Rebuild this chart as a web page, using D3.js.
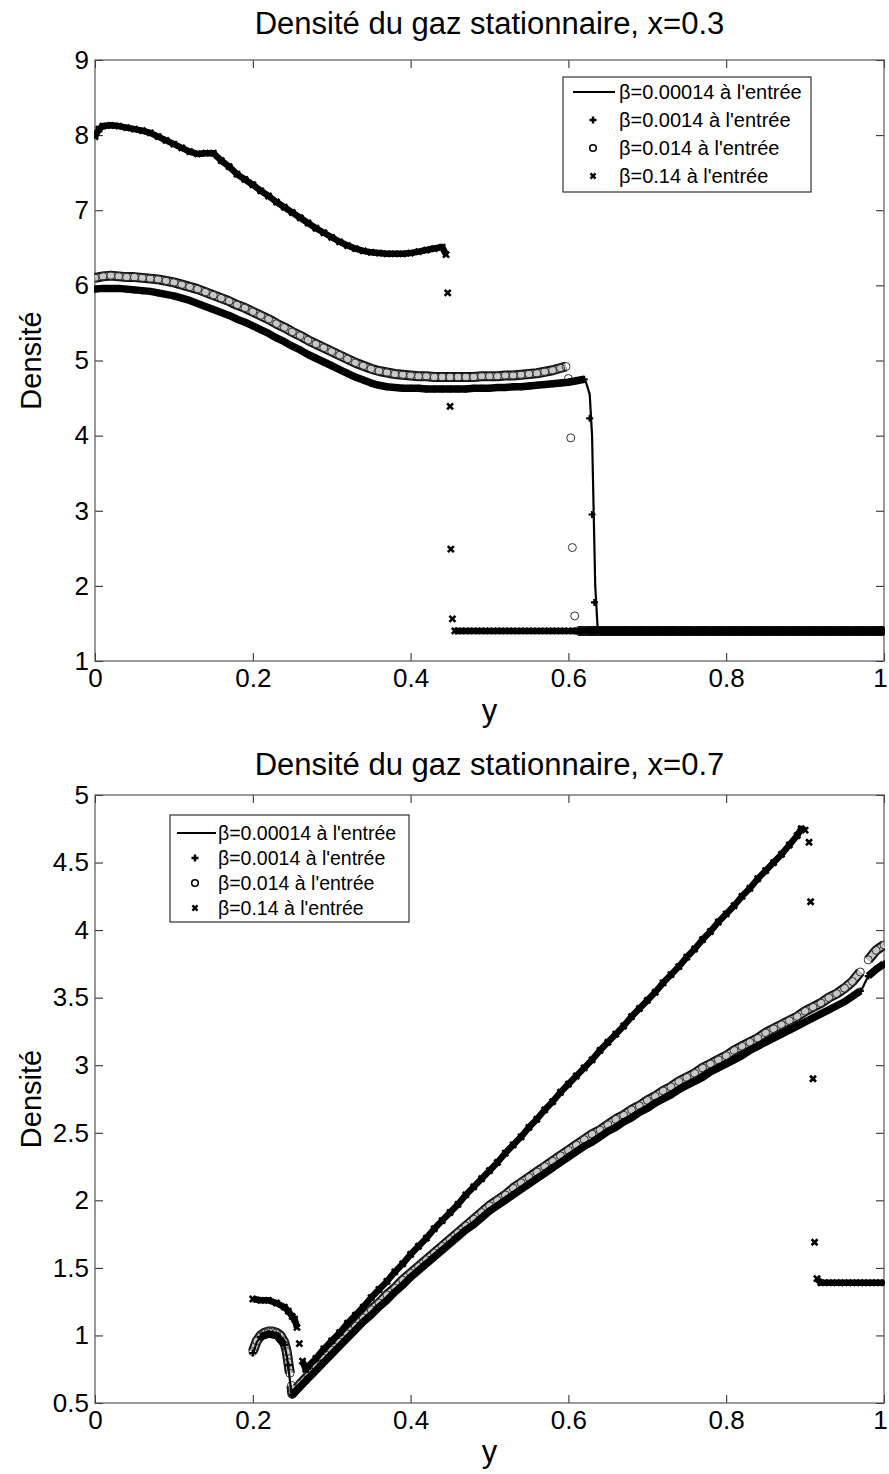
<!DOCTYPE html>
<html><head><meta charset="utf-8">
<script src="https://cdn.jsdelivr.net/npm/d3@7"></script>
<style>body{margin:0;background:#fff}</style>
</head><body><svg id="c" width="889" height="1474"></svg>
<script>
const FONT = '"Liberation Sans", Arial, Helvetica, sans-serif';
const titles = ["Densité du gaz stationnaire, x=0.3", "Densité du gaz stationnaire, x=0.7"];
const xLabel = "y";
const yLabel = "Densité";
const legendLabels = ["β=0.00014 à l'entrée", "β=0.0014 à l'entrée", "β=0.014 à l'entrée", "β=0.14 à l'entrée"];
const xTicks = [0, 0.2, 0.4, 0.6, 0.8, 1];
const xTickLabels = ["0", "0.2", "0.4", "0.6", "0.8", "1"];
const yTicksTop = [1, 2, 3, 4, 5, 6, 7, 8, 9];
const yTickLabelsTop = ["1", "2", "3", "4", "5", "6", "7", "8", "9"];
const yTicksBot = [0.5, 1, 1.5, 2, 2.5, 3, 3.5, 4, 4.5, 5];
const yTickLabelsBot = ["0.5", "1", "1.5", "2", "2.5", "3", "3.5", "4", "4.5", "5"];

// ---- x = 0.3 : [y, densité]
const top_beta00014 = [[0,5.93],[0.02,5.94],[0.04,5.93],[0.06,5.91],[0.08,5.88],[0.10,5.84],[0.12,5.78],[0.14,5.71],[0.16,5.63],[0.18,5.54],[0.20,5.44],[0.22,5.34],[0.24,5.23],[0.26,5.12],[0.28,5.01],[0.30,4.91],[0.32,4.81],[0.34,4.73],[0.36,4.66],[0.38,4.62],[0.40,4.61],[0.44,4.60],[0.48,4.61],[0.52,4.63],[0.56,4.66],[0.60,4.69],[0.615,4.72],[0.622,4.72],[0.627,4.55],[0.630,4.0],[0.632,3.0],[0.634,2.0],[0.637,1.45],[0.64,1.39],[0.7,1.39],[0.8,1.39],[0.9,1.39],[1.0,1.39]];
const top_beta0014 = [[0,5.95],[0.01,5.96],[0.02,5.96],[0.03,5.96],[0.04,5.95],[0.05,5.94],[0.06,5.93],[0.07,5.92],[0.08,5.90],[0.09,5.88],[0.10,5.86],[0.11,5.83],[0.12,5.80],[0.13,5.76],[0.14,5.72],[0.15,5.68],[0.16,5.64],[0.17,5.60],[0.18,5.55],[0.19,5.51],[0.20,5.46],[0.21,5.41],[0.22,5.36],[0.23,5.30],[0.24,5.25],[0.25,5.19],[0.26,5.14],[0.27,5.08],[0.28,5.03],[0.29,4.98],[0.30,4.93],[0.31,4.88],[0.32,4.83],[0.33,4.78],[0.34,4.74],[0.35,4.70],[0.36,4.67],[0.37,4.65],[0.38,4.64],[0.39,4.63],[0.40,4.63],[0.41,4.63],[0.42,4.62],[0.43,4.62],[0.44,4.62],[0.45,4.62],[0.46,4.62],[0.47,4.62],[0.48,4.63],[0.49,4.63],[0.50,4.63],[0.51,4.64],[0.52,4.64],[0.53,4.65],[0.54,4.65],[0.55,4.66],[0.56,4.67],[0.57,4.68],[0.58,4.69],[0.59,4.70],[0.60,4.71],[0.61,4.73],[0.62,4.75],[0.627,4.23],[0.63,2.95],[0.633,1.78],[0.64,1.4],[0.66,1.4],[0.68,1.4],[0.70,1.4],[0.72,1.4],[0.74,1.4],[0.76,1.4],[0.78,1.4],[0.80,1.4],[0.82,1.4],[0.84,1.4],[0.86,1.4],[0.88,1.4],[0.90,1.4],[0.92,1.4],[0.94,1.4],[0.96,1.4],[0.98,1.4],[1.0,1.4]];
const top_beta014 = [[0,6.10],[0.01,6.12],[0.02,6.13],[0.03,6.12],[0.04,6.11],[0.05,6.11],[0.06,6.10],[0.07,6.09],[0.08,6.08],[0.09,6.06],[0.10,6.04],[0.11,6.01],[0.12,5.98],[0.13,5.95],[0.14,5.91],[0.15,5.87],[0.16,5.83],[0.17,5.79],[0.18,5.74],[0.19,5.70],[0.20,5.65],[0.21,5.60],[0.22,5.55],[0.23,5.49],[0.24,5.44],[0.25,5.38],[0.26,5.33],[0.27,5.27],[0.28,5.22],[0.29,5.17],[0.30,5.12],[0.31,5.07],[0.32,5.02],[0.33,4.97],[0.34,4.93],[0.35,4.89],[0.36,4.86],[0.37,4.84],[0.38,4.82],[0.39,4.81],[0.40,4.80],[0.41,4.79],[0.42,4.79],[0.43,4.78],[0.44,4.78],[0.45,4.78],[0.46,4.78],[0.47,4.78],[0.48,4.78],[0.49,4.79],[0.50,4.79],[0.51,4.79],[0.52,4.80],[0.53,4.80],[0.54,4.81],[0.55,4.82],[0.56,4.83],[0.57,4.85],[0.58,4.87],[0.59,4.90],[0.597,4.92],[0.60,4.76],[0.603,3.97],[0.605,2.51],[0.608,1.6],[0.612,1.4],[0.62,1.4],[0.64,1.4],[0.66,1.4],[0.68,1.4],[0.70,1.4],[0.72,1.4],[0.74,1.4],[0.76,1.4],[0.78,1.4],[0.80,1.4],[0.82,1.4],[0.84,1.4],[0.86,1.4],[0.88,1.4],[0.90,1.4],[0.92,1.4],[0.94,1.4],[0.96,1.4],[0.98,1.4],[1.0,1.4]];
const top_beta14 = [[0,7.98],[0.005,8.08],[0.01,8.12],[0.02,8.13],[0.03,8.12],[0.04,8.10],[0.05,8.08],[0.06,8.06],[0.07,8.03],[0.08,7.98],[0.09,7.93],[0.10,7.88],[0.11,7.83],[0.12,7.78],[0.13,7.75],[0.14,7.76],[0.15,7.76],[0.16,7.66],[0.17,7.58],[0.18,7.48],[0.19,7.41],[0.20,7.34],[0.21,7.26],[0.22,7.19],[0.23,7.11],[0.24,7.04],[0.25,6.97],[0.26,6.90],[0.27,6.83],[0.28,6.76],[0.29,6.70],[0.30,6.64],[0.31,6.58],[0.32,6.53],[0.33,6.49],[0.34,6.46],[0.35,6.44],[0.36,6.43],[0.37,6.42],[0.38,6.42],[0.39,6.42],[0.40,6.43],[0.41,6.45],[0.42,6.47],[0.43,6.49],[0.44,6.51],[0.445,6.41],[0.447,5.9],[0.45,4.39],[0.451,2.49],[0.453,1.56],[0.456,1.4],[0.46,1.4],[0.47,1.4],[0.48,1.4],[0.49,1.4],[0.50,1.4],[0.51,1.4],[0.52,1.4],[0.53,1.4],[0.54,1.4],[0.55,1.4],[0.56,1.4],[0.57,1.4],[0.58,1.4],[0.59,1.4],[0.60,1.4],[0.61,1.4],[0.62,1.4],[0.63,1.4],[0.64,1.4],[0.65,1.4],[0.66,1.4],[0.67,1.4],[0.68,1.4],[0.69,1.4],[0.70,1.4],[0.71,1.4],[0.72,1.4],[0.73,1.4],[0.74,1.4],[0.75,1.4],[0.76,1.4],[0.77,1.4],[0.78,1.4],[0.79,1.4],[0.80,1.4],[0.81,1.4],[0.82,1.4],[0.83,1.4],[0.84,1.4],[0.85,1.4],[0.86,1.4],[0.87,1.4],[0.88,1.4],[0.89,1.4],[0.90,1.4],[0.91,1.4],[0.92,1.4],[0.93,1.4],[0.94,1.4],[0.95,1.4],[0.96,1.4],[0.97,1.4],[0.98,1.4],[0.99,1.4],[1.0,1.4]];

// ---- x = 0.7 : [y, densité]
const bot_beta00014 = [[0.2,0.86],[0.205,0.95],[0.21,0.99],[0.22,1.01],[0.23,1.0],[0.235,0.98],[0.24,0.93],[0.243,0.85],[0.246,0.72],[0.248,0.62],[0.25,0.55],[0.26,0.61],[0.28,0.73],[0.30,0.85],[0.32,0.97],[0.34,1.09],[0.36,1.20],[0.38,1.31],[0.40,1.42],[0.43,1.57],[0.46,1.72],[0.50,1.91],[0.55,2.12],[0.60,2.32],[0.65,2.50],[0.70,2.68],[0.75,2.85],[0.80,3.01],[0.85,3.17],[0.90,3.32],[0.94,3.44],[0.96,3.51],[0.97,3.54],[0.975,3.60],[0.98,3.66],[0.99,3.71],[1.0,3.75]];
const bot_beta0014 = [[0.2,0.87],[0.21,0.99],[0.22,1.01],[0.23,1.0],[0.24,0.93],[0.245,0.78],[0.25,0.56],[0.26,0.62],[0.27,0.68],[0.28,0.74],[0.29,0.80],[0.30,0.86],[0.31,0.92],[0.32,0.98],[0.33,1.04],[0.34,1.10],[0.35,1.15],[0.36,1.21],[0.37,1.26],[0.38,1.32],[0.39,1.37],[0.40,1.43],[0.41,1.48],[0.42,1.53],[0.43,1.58],[0.44,1.63],[0.45,1.68],[0.46,1.73],[0.47,1.78],[0.48,1.82],[0.49,1.87],[0.50,1.92],[0.51,1.96],[0.52,2.00],[0.53,2.04],[0.54,2.08],[0.55,2.12],[0.56,2.16],[0.57,2.20],[0.58,2.24],[0.59,2.28],[0.60,2.32],[0.61,2.36],[0.62,2.40],[0.63,2.43],[0.64,2.47],[0.65,2.51],[0.66,2.54],[0.67,2.58],[0.68,2.61],[0.69,2.65],[0.70,2.68],[0.71,2.72],[0.72,2.75],[0.73,2.78],[0.74,2.82],[0.75,2.85],[0.76,2.88],[0.77,2.91],[0.78,2.95],[0.79,2.98],[0.80,3.01],[0.81,3.04],[0.82,3.07],[0.83,3.11],[0.84,3.14],[0.85,3.17],[0.86,3.20],[0.87,3.23],[0.88,3.26],[0.89,3.29],[0.90,3.32],[0.91,3.35],[0.92,3.38],[0.93,3.41],[0.94,3.44],[0.95,3.47],[0.96,3.51],[0.97,3.55],[0.98,3.66],[0.99,3.71],[1.0,3.75]];
const bot_beta014 = [[0.2,0.88],[0.205,0.96],[0.21,1.0],[0.215,1.02],[0.22,1.03],[0.225,1.03],[0.23,1.02],[0.235,1.0],[0.24,0.95],[0.243,0.88],[0.245,0.8],[0.247,0.72],[0.249,0.63],[0.25,0.57],[0.26,0.64],[0.27,0.70],[0.28,0.77],[0.29,0.83],[0.30,0.89],[0.31,0.95],[0.32,1.01],[0.33,1.07],[0.34,1.13],[0.35,1.19],[0.36,1.24],[0.37,1.30],[0.38,1.35],[0.39,1.41],[0.40,1.46],[0.41,1.51],[0.42,1.56],[0.43,1.61],[0.44,1.66],[0.45,1.71],[0.46,1.76],[0.47,1.81],[0.48,1.86],[0.49,1.91],[0.50,1.96],[0.51,2.00],[0.52,2.04],[0.53,2.09],[0.54,2.13],[0.55,2.17],[0.56,2.21],[0.57,2.25],[0.58,2.29],[0.59,2.33],[0.60,2.37],[0.61,2.41],[0.62,2.45],[0.63,2.49],[0.64,2.52],[0.65,2.56],[0.66,2.60],[0.67,2.63],[0.68,2.67],[0.69,2.70],[0.70,2.74],[0.71,2.77],[0.72,2.81],[0.73,2.84],[0.74,2.88],[0.75,2.91],[0.76,2.94],[0.77,2.98],[0.78,3.01],[0.79,3.04],[0.80,3.07],[0.81,3.11],[0.82,3.14],[0.83,3.17],[0.84,3.20],[0.85,3.24],[0.86,3.27],[0.87,3.30],[0.88,3.33],[0.89,3.36],[0.90,3.40],[0.91,3.43],[0.92,3.46],[0.93,3.50],[0.94,3.53],[0.95,3.57],[0.96,3.62],[0.97,3.69],[0.98,3.78],[0.99,3.85],[1.0,3.89]];
const bot_beta14 = [[0.2,1.27],[0.21,1.26],[0.22,1.26],[0.23,1.24],[0.24,1.21],[0.245,1.18],[0.25,1.14],[0.253,1.12],[0.256,1.06],[0.259,0.94],[0.263,0.81],[0.267,0.75],[0.27,0.77],[0.28,0.83],[0.29,0.90],[0.30,0.96],[0.31,1.02],[0.32,1.09],[0.33,1.15],[0.34,1.21],[0.35,1.28],[0.36,1.34],[0.37,1.40],[0.38,1.47],[0.39,1.53],[0.40,1.60],[0.41,1.66],[0.42,1.72],[0.43,1.79],[0.44,1.85],[0.45,1.91],[0.46,1.97],[0.47,2.04],[0.48,2.10],[0.49,2.16],[0.50,2.22],[0.51,2.28],[0.52,2.35],[0.53,2.41],[0.54,2.47],[0.55,2.54],[0.56,2.60],[0.57,2.67],[0.58,2.73],[0.59,2.80],[0.60,2.86],[0.61,2.92],[0.62,2.98],[0.63,3.04],[0.64,3.11],[0.65,3.17],[0.66,3.23],[0.67,3.29],[0.68,3.36],[0.69,3.42],[0.70,3.48],[0.71,3.54],[0.72,3.61],[0.73,3.67],[0.74,3.73],[0.75,3.80],[0.76,3.86],[0.77,3.93],[0.78,3.99],[0.79,4.06],[0.80,4.12],[0.81,4.18],[0.82,4.25],[0.83,4.31],[0.84,4.38],[0.85,4.44],[0.86,4.50],[0.87,4.56],[0.88,4.63],[0.89,4.70],[0.895,4.75],[0.90,4.74],[0.905,4.65],[0.907,4.21],[0.91,2.9],[0.912,1.69],[0.915,1.42],[0.92,1.39],[0.93,1.39],[0.94,1.39],[0.95,1.39],[0.96,1.39],[0.97,1.39],[0.98,1.39],[0.99,1.39],[1.0,1.39]];

const svg = d3.select("#c");

const MARK = {
  plus: "M-3.5,0H3.5M0,-3.5V3.5",
  cross: "M-3,-3L3,3M-3,3L3,-3"
};

function segments(pts, y, maxJump) {
  const segs = []; let cur = [];
  pts.forEach((p, i) => {
    if (i > 0 && Math.abs(y(p[1]) - y(pts[i - 1][1])) > maxJump) { if (cur.length > 1) segs.push(cur); cur = []; }
    cur.push(p);
  });
  if (cur.length > 1) segs.push(cur);
  return segs;
}

function drawPlot(o) {
  const x = d3.scaleLinear().domain([0, 1]).range([o.left, o.right]);
  const y = d3.scaleLinear().domain(o.yDomain).range([o.bottom, o.top]);
  const g = svg.append("g");
  const clip = "clip" + o.id;
  svg.append("clipPath").attr("id", clip).append("rect")
    .attr("x", o.left - 1).attr("y", o.top - 1).attr("width", o.right - o.left + 2).attr("height", o.bottom - o.top + 2);

  const fmtX = (d, i) => xTickLabels[i];
  const fmtY = (d, i) => o.yLabels[i];
  const aB = g.append("g").attr("transform", `translate(0,${o.bottom})`)
    .call(d3.axisBottom(x).tickValues(xTicks).tickFormat(fmtX).tickSizeInner(-8).tickSizeOuter(0).tickPadding(8));
  const aT = g.append("g").attr("transform", `translate(0,${o.top})`)
    .call(d3.axisTop(x).tickValues(xTicks).tickFormat("").tickSizeInner(-8).tickSizeOuter(0));
  const aL = g.append("g").attr("transform", `translate(${o.left},0)`)
    .call(d3.axisLeft(y).tickValues(o.yTicks).tickFormat(fmtY).tickSizeInner(-8).tickSizeOuter(0).tickPadding(6));
  const aR = g.append("g").attr("transform", `translate(${o.right},0)`)
    .call(d3.axisRight(y).tickValues(o.yTicks).tickFormat("").tickSizeInner(-8).tickSizeOuter(0));
  [aB, aT, aL, aR].forEach(a => {
    a.select(".domain").remove();
    a.selectAll(".tick line").attr("stroke", "#222").attr("stroke-width", 1);
    a.selectAll("text").attr("font-family", FONT).attr("font-size", 26).attr("fill", "#000");
  });
  aB.selectAll(".tick text").filter((d, i) => i === xTicks.length - 1).attr("dx", -4);
  g.append("rect").attr("x", o.left).attr("y", o.top).attr("width", o.right - o.left).attr("height", o.bottom - o.top)
    .attr("fill", "none").attr("stroke", "#555").attr("stroke-width", 1.2);

  g.append("text").attr("x", (o.left + o.right) / 2).attr("y", o.titleY).attr("text-anchor", "middle")
    .attr("font-family", FONT).attr("font-size", 31).text(o.title);
  g.append("text").attr("x", (o.left + o.right) / 2).attr("y", o.xLabelY).attr("text-anchor", "middle")
    .attr("font-family", FONT).attr("font-size", 31).text(xLabel);
  g.append("text").attr("transform", `translate(41,${(o.top + o.bottom) / 2}) rotate(-90)`).attr("text-anchor", "middle")
    .attr("font-family", FONT).attr("font-size", 29).text(yLabel);

  const pg = g.append("g").attr("clip-path", `url(#${clip})`);
  const line = d3.line().x(d => x(d[0])).y(d => y(d[1]));

  // β=0.014 : hollow circles
  segments(o.s3, y, 12).forEach(s => {
    pg.append("path").attr("d", line(s)).attr("fill", "none").attr("stroke", "#111").attr("stroke-width", 10).attr("stroke-linejoin", "round");
    pg.append("path").attr("d", line(s)).attr("fill", "none").attr("stroke", "#c8c8c8").attr("stroke-width", 6).attr("stroke-linejoin", "round");
  });
  pg.selectAll(null).data(o.s3).join("circle").attr("cx", d => x(d[0])).attr("cy", d => y(d[1]))
    .attr("r", 4).attr("fill", "none").attr("stroke", "#333").attr("stroke-width", 1);

  // β=0.0014 : plus markers
  segments(o.s2, y, 12).forEach(s => {
    pg.append("path").attr("d", line(s)).attr("fill", "none").attr("stroke", "#000").attr("stroke-width", 7.5).attr("stroke-linejoin", "round");
  });
  pg.selectAll(null).data(o.s2).join("path").attr("d", MARK.plus)
    .attr("transform", d => `translate(${x(d[0])},${y(d[1])})`).attr("stroke", "#000").attr("stroke-width", 2.2).attr("fill", "none");

  // β=0.14 : cross markers
  segments(o.s4, y, 12).forEach(s => {
    pg.append("path").attr("d", line(s)).attr("fill", "none").attr("stroke", "#000").attr("stroke-width", 6.5).attr("stroke-linejoin", "round");
  });
  pg.selectAll(null).data(o.s4).join("path").attr("d", MARK.cross)
    .attr("transform", d => `translate(${x(d[0])},${y(d[1])})`).attr("stroke", "#000").attr("stroke-width", 2.6).attr("fill", "none");

  // β=0.00014 : solid line
  pg.append("path").attr("d", line(o.s1)).attr("fill", "none").attr("stroke", "#000").attr("stroke-width", 2.2);

  // legend
  const L = o.legend;
  const lg = g.append("g");
  lg.append("rect").attr("x", L.x).attr("y", L.y).attr("width", L.w).attr("height", L.h)
    .attr("fill", "#fff").attr("stroke", "#333").attr("stroke-width", 1.2);
  legendLabels.forEach((t, i) => {
    const ry = L.y + L.row0 + i * L.dy;
    lg.append("text").attr("x", L.x + L.textX).attr("y", ry).attr("dy", "0.35em")
      .attr("font-family", FONT).attr("font-size", L.fs).text(t);
    const mx = L.x + L.markX;
    if (i === 0) lg.append("line").attr("x1", L.x + L.lineX0).attr("x2", L.x + L.lineX1).attr("y1", ry).attr("y2", ry).attr("stroke", "#000").attr("stroke-width", 1.8);
    if (i === 1) lg.append("path").attr("d", MARK.plus).attr("transform", `translate(${mx},${ry})`).attr("stroke", "#000").attr("stroke-width", 2.4);
    if (i === 2) lg.append("circle").attr("cx", mx).attr("cy", ry).attr("r", 3.3).attr("fill", "none").attr("stroke", "#000").attr("stroke-width", 1.6);
    if (i === 3) lg.append("path").attr("d", MARK.cross).attr("transform", `translate(${mx},${ry}) scale(0.85)`).attr("stroke", "#000").attr("stroke-width", 2.8);
  });
}

drawPlot({
  id: 1, left: 95, right: 884, top: 60, bottom: 661, yDomain: [1, 9], yTicks: yTicksTop, yLabels: yTickLabelsTop,
  title: titles[0], titleY: 34, xLabelY: 721,
  s1: top_beta00014, s2: top_beta0014, s3: top_beta014, s4: top_beta14,
  legend: { x: 563, y: 77, w: 248, h: 115, row0: 15, dy: 28, fs: 20, textX: 56, lineX0: 10, lineX1: 52, markX: 30 }
});
drawPlot({
  id: 2, left: 95, right: 884, top: 795, bottom: 1403, yDomain: [0.5, 5], yTicks: yTicksBot, yLabels: yTickLabelsBot,
  title: titles[1], titleY: 775, xLabelY: 1462,
  s1: bot_beta00014, s2: bot_beta0014, s3: bot_beta014, s4: bot_beta14,
  legend: { x: 170, y: 815, w: 239, h: 107, row0: 18, dy: 25, fs: 19.5, textX: 48, lineX0: 7, lineX1: 46, markX: 25 }
});
</script>
</body></html>
